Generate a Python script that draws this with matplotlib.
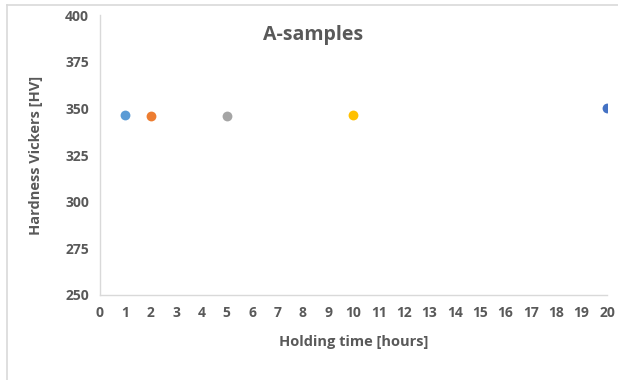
import matplotlib
matplotlib.use("Agg")
import matplotlib.pyplot as plt
from matplotlib.lines import Line2D

# Holding time (hours) and measured Vickers hardness for the A-samples
hours = [1, 2, 5, 10, 20]
hardness = [346.2, 346.0, 345.9, 346.6, 350.2]
colors = ["#5B9BD5", "#ED7D31", "#A5A5A5", "#FFC000", "#4472C4"]
x_ticks = list(range(0, 21))
y_ticks = [250, 275, 300, 325, 350, 375, 400]

plt.rcParams["font.family"] = ["Open Sans", "DejaVu Sans"]
text_color = "#595959"

fig = plt.figure(figsize=(6.18, 3.80), dpi=100)
ax = fig.add_axes([0.1618, 0.2237, 0.8204, 0.7368])

for x, y, c in zip(hours, hardness, colors):
    ax.scatter([x], [y], s=50, color=c, zorder=3, linewidths=0)

ax.set_xlim(0, 20)
ax.set_ylim(250, 400)
ax.set_xticks(x_ticks)
ax.set_yticks(y_ticks)
ax.tick_params(length=0, labelsize=10, colors=text_color, pad=8)
for lab in ax.get_xticklabels() + ax.get_yticklabels():
    lab.set_fontweight("bold")

for side in ("top", "right"):
    ax.spines[side].set_visible(False)
for side in ("left", "bottom"):
    ax.spines[side].set_color("#D9D9D9")
    ax.spines[side].set_linewidth(1.0)

ax.set_xlabel("Holding time [hours]", fontsize=10.5, fontweight="bold",
              color=text_color, labelpad=11)
ax.set_ylabel("Hardness Vickers [HV]", fontsize=10.5, fontweight="bold",
              color=text_color, labelpad=16)
ax.text(0.42, 0.93, "A-samples", transform=ax.transAxes, ha="center",
        va="center", fontsize=14, fontweight="bold", color=text_color)

# Outer chart border (top and left edges)
fig.add_artist(Line2D([6.5 / 618, 1], [1 - 4.5 / 380, 1 - 4.5 / 380],
                      transform=fig.transFigure, color="#D9D9D9", lw=1.2))
fig.add_artist(Line2D([6.5 / 618, 6.5 / 618], [0, 1 - 4.5 / 380],
                      transform=fig.transFigure, color="#D9D9D9", lw=1.2))

fig.savefig("out.png", dpi=100)
